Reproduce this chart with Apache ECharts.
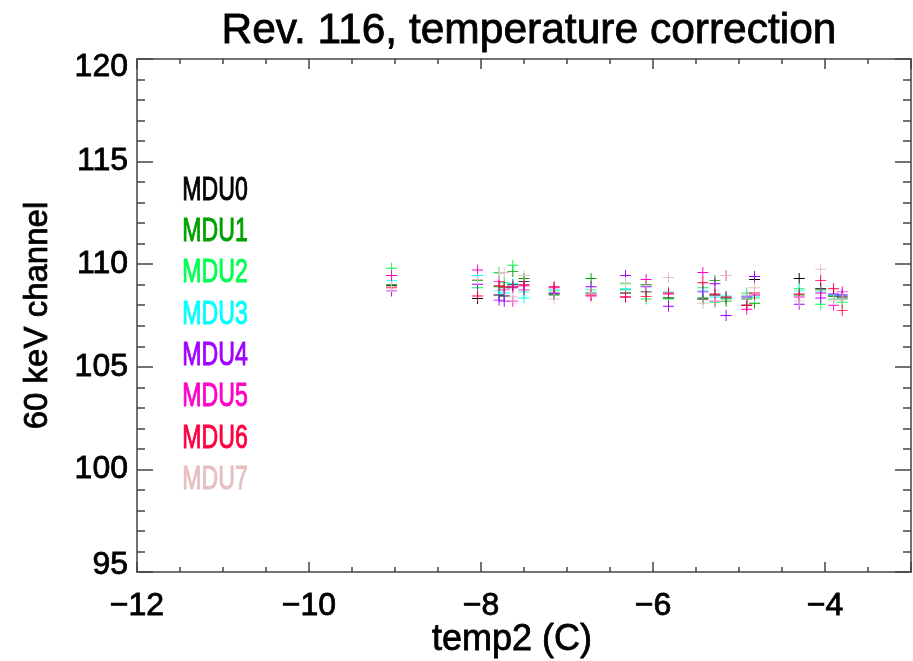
<!DOCTYPE html>
<html>
<head>
<meta charset="utf-8">
<script src="https://cdn.jsdelivr.net/npm/echarts@6/dist/echarts.min.js"></script>
<style>html,body{margin:0;padding:0;background:#fff}#c{width:913px;height:661px}</style>
</head>
<body>
<div id="c"></div>
<script>
const titleText = 'Rev. 116, temperature correction';
const xName = 'temp2 (C)';
const yName = '60 keV channel';
const xTicks = [-12, -10, -8, -6, -4];
const yTicks = [95, 100, 105, 110, 115, 120];
const mduNames = ['MDU0', 'MDU1', 'MDU2', 'MDU3', 'MDU4', 'MDU5', 'MDU6', 'MDU7'];
const mduColors = ['#000000', '#00a000', '#00ff50', '#00ffff', '#a000ff', '#ff00c8', '#ff0040', '#e6c0c0'];
const temps = [-9.04, -8.04, -7.79, -7.73, -7.63, -7.50, -7.15, -6.72, -6.32, -6.08, -5.82, -5.42, -5.28, -5.15, -4.91, -4.82, -4.30, -4.05, -3.90, -3.80];
const mdu0 = [108.95,108.33,108.5,108.45,109.0,109.15,108.55,108.6,108.6,108.65,108.35,108.3,108.5,108.35,108.0,109.25,109.3,108.8,108.45,108.4];
const mdu1 = [109.0,109.2,108.9,108.85,109.65,109.3,108.5,109.3,108.75,109.0,108.35,108.35,109.2,108.2,108.3,108.1,108.5,108.75,108.45,108.3];
const mdu2 = [109.8,108.85,109.6,109.1,109.95,108.65,108.7,108.75,109.05,108.3,108.3,108.85,108.15,108.3,108.6,108.35,108.8,108.05,108.3,108.15];
const mdu3 = [109.2,109.45,108.7,108.6,109.05,108.35,108.75,108.6,108.8,108.95,108.65,108.7,108.4,108.45,108.45,108.45,108.7,108.65,108.5,108.5];
const mdu4 = [108.7,109.02,108.25,108.2,108.85,108.75,108.6,108.9,109.45,108.9,107.95,108.65,109.05,107.5,108.4,109.4,108.05,108.35,108.55,108.5];
const mdu5 = [109.45,109.72,109.15,108.75,108.2,108.95,108.85,108.45,108.4,109.25,108.55,109.6,108.2,109.45,107.8,108.5,108.4,108.6,108.0,108.65];
const mdu6 = [108.85,108.45,108.95,108.9,108.9,109.0,108.9,108.5,108.4,108.42,108.6,109.1,108.55,108.4,108.0,108.6,108.55,109.2,108.8,107.75];
const mdu7 = [108.9,109.25,109.55,109.6,108.4,109.45,108.3,108.6,109.1,108.95,109.35,108.1,108.2,109.45,108.5,108.85,108.2,109.75,108.25,108.3];
const mduValues = [mdu0, mdu1, mdu2, mdu3, mdu4, mdu5, mdu6, mdu7];

const FONT = '"Liberation Sans", Arial, Helvetica, sans-serif';
const plusPath = 'path://M-0.6,-7H0.6V7H-0.6Z M-7,-0.6H7V0.6H-7Z';
const axisColor = '#444';
const thick = {textBorderColor: '#000', textBorderWidth: 0.8};

const chart = echarts.init(document.getElementById('c'), null, {renderer: 'canvas'});

const series = mduNames.map((name, i) => ({
  name: name,
  type: 'scatter',
  symbol: plusPath,
  symbolSize: 11,
  itemStyle: {color: mduColors[i], opacity: 1},
  emphasis: {disabled: true},
  data: temps.map((t, j) => [t, mduValues[i][j]])
}));

const legendGraphics = mduNames.map((name, i) => ({
  type: 'text',
  left: 182,
  top: 173 + i * 41.3,
  scaleX: 0.68,
  style: {text: name, fill: mduColors[i], font: '34px ' + FONT, stroke: mduColors[i], lineWidth: 1}
}));

function baseX(pos, showLabel) {
  return {
    type: 'value', position: pos, min: -12, max: -3, interval: 2,
    axisLine: {show: true, onZero: false, lineStyle: {color: axisColor, width: 1.5}},
    axisTick: {show: true, inside: true, length: 10, lineStyle: {color: axisColor, width: 1.5}},
    minorTick: {show: true, splitNumber: 4, length: 5, lineStyle: {color: axisColor, width: 1.5}},
    splitLine: {show: false}, minorSplitLine: {show: false},
    axisLabel: showLabel ? Object.assign({
      show: true, margin: 18, color: '#000', fontSize: 32, fontFamily: FONT,
      formatter: v => (xTicks.indexOf(v) >= 0 ? String(v).replace('-', '\u2212') : '')
    }, thick) : {show: false}
  };
}
function baseY(pos, showLabel) {
  return {
    type: 'value', position: pos, min: 95, max: 120, interval: 5,
    axisLine: {show: true, onZero: false, lineStyle: {color: axisColor, width: 1.5}},
    axisTick: {show: true, inside: true, length: 16, lineStyle: {color: axisColor, width: 1.5}},
    minorTick: {show: true, splitNumber: 5, length: 8, lineStyle: {color: axisColor, width: 1.5}},
    splitLine: {show: false}, minorSplitLine: {show: false},
    axisLabel: showLabel ? Object.assign({
      show: true, margin: 9, color: '#000', fontSize: 32, fontFamily: FONT,
      formatter: v => {
        if (yTicks.indexOf(v) < 0) return '';
        if (v === yTicks[yTicks.length - 1]) return '{top|' + v + '}';
        if (v === yTicks[0]) return '{bot|' + v + '}';
        return String(v);
      },
      rich: {
        top: Object.assign({fontSize: 32, fontFamily: FONT, color: '#000', padding: [17, 0, 0, 0]}, thick),
        bot: Object.assign({fontSize: 32, fontFamily: FONT, color: '#000', padding: [0, 0, 14, 0]}, thick)
      }
    }, thick) : {show: false}
  };
}

const xBottom = baseX('bottom', true);
xBottom.name = xName;
xBottom.nameLocation = 'middle';
xBottom.nameGap = 50;
xBottom.nameMoveOverlap = false;
xBottom.nameTextStyle = Object.assign({color: '#000', fontSize: 36, fontFamily: FONT, padding: [0, 24, 0, 0]}, thick);
const yLeft = baseY('left', true);
yLeft.name = yName;
yLeft.nameLocation = 'middle';
yLeft.nameGap = 83;
yLeft.nameMoveOverlap = false;
yLeft.nameTextStyle = Object.assign({color: '#000', fontSize: 33, fontFamily: FONT}, thick);

chart.setOption({
  backgroundColor: '#ffffff',
  animation: false,
  title: {
    text: titleText, left: 524, top: 5, textAlign: 'center',
    textStyle: Object.assign({color: '#000', fontSize: 42.5, fontWeight: 'normal', fontFamily: FONT}, thick)
  },
  grid: {left: 137, right: 2, top: 59, bottom: 89, containLabel: false, outerBoundsMode: 'none'},
  xAxis: [xBottom, baseX('top', false)],
  yAxis: [yLeft, baseY('right', false)],
  graphic: legendGraphics,
  series: series
});
</script>
</body>
</html>
